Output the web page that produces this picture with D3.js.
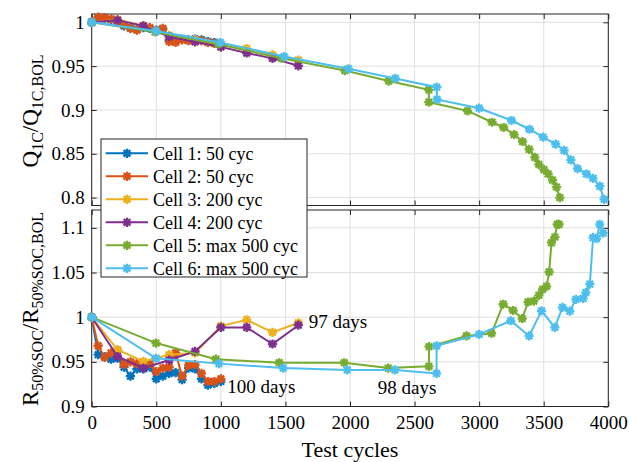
<!DOCTYPE html>
<html><head><meta charset="utf-8">
<script src="https://cdn.jsdelivr.net/npm/d3@7"></script>
<style>body{margin:0;background:#fff}</style>
</head><body><svg id="c" width="629" height="462" font-family="Liberation Serif" style="font-family:'Liberation Serif'"></svg>
<script>
// ---------- data ----------
const cellNames = ["Cell 1: 50 cyc","Cell 2: 50 cyc","Cell 3: 200 cyc","Cell 4: 200 cyc","Cell 5: max 500 cyc","Cell 6: max 500 cyc"];
const cellColors = ["#0072BD","#D95319","#EDB120","#7E2F8E","#77AC30","#4DBEEE"];
const xTicks = [0,500,1000,1500,2000,2500,3000,3500,4000];
const qTicks = [0.8,0.85,0.9,0.95,1];
const qTickLabels = ["0.8","0.85","0.9","0.95","1"];
const rTicks = [0.9,0.95,1,1.05,1.1];
const rTickLabels = ["0.9","0.95","1","1.05","1.1"];

const cyc50 = [0,50,100,150,200,250,300,350,400,450,500,550,600,650,700,750,800,850,900,950,1000];
const cyc200 = [0,200,400,600,800,1000,1200,1400,1600];

// capacity (top)
const q1 = [1.0,1.005,1.005,1.003,1.001,0.996,0.994,0.992,0.994,0.993,0.991,0.992,0.980,0.979,0.981,0.980,0.981,0.980,0.978,0.977,0.974];
const q2 = [1.0,1.006,1.005,1.004,1.001,0.997,0.993,0.991,0.995,0.994,0.990,0.993,0.978,0.977,0.980,0.979,0.980,0.979,0.977,0.976,0.972];
const q3 = [1.0,1.003,0.996,0.985,0.980,0.975,0.970,0.963,0.957];
const q4 = [1.0,1.0025,0.996,0.9836,0.9778,0.972,0.965,0.9589,0.9504];
const q5Cyc = [0,490,980,1470,1960,2300,2610,2610,2910,3100,3190,3270,3336,3387,3431,3462,3501,3534,3568,3599,3625];
const q5 = [1.0,0.989,0.975,0.959,0.945,0.933,0.923,0.909,0.899,0.886,0.880,0.872,0.864,0.855,0.846,0.838,0.832,0.827,0.820,0.812,0.800];
const q6Cyc = [0,500,995,1490,1988,2350,2672,2674,3000,3251,3390,3495,3593,3658,3710,3762,3831,3882,3934,3968];
const q6 = [1.0,0.990,0.977,0.961,0.947,0.936,0.926,0.912,0.902,0.888,0.878,0.869,0.861,0.854,0.843,0.833,0.827,0.822,0.813,0.798];

// resistance (bottom)
const r1 = [1.0,0.958,0.956,0.953,0.954,0.944,0.934,0.942,0.942,0.944,0.931,0.934,0.937,0.938,0.930,0.943,0.942,0.931,0.924,0.926,0.928];
const r2 = [1.0,0.968,0.955,0.960,0.963,0.947,0.950,0.948,0.946,0.948,0.939,0.943,0.944,0.960,0.934,0.946,0.947,0.937,0.928,0.928,0.931];
const r3 = [1.0,0.9635,0.9505,0.958,0.960,0.990,0.997,0.983,0.9937];
const r4 = [1.0,0.956,0.943,0.952,0.9617,0.9885,0.9885,0.970,0.991];
const r5Cyc = [0,498,962,1452,1955,2296,2611,2612,2902,3096,3186,3263,3333,3379,3423,3462,3491,3522,3542,3560,3586,3604,3619];
const r5 = [1.0,0.971,0.953,0.949,0.949,0.943,0.945,0.967,0.979,0.982,1.0145,1.0075,0.9985,1.017,1.018,1.0245,1.031,1.0346,1.0506,1.0834,1.0897,1.104,1.104];
const r6Cyc = [0,498,985,1483,1978,2348,2670,2671,3000,3245,3387,3483,3586,3645,3702,3749,3805,3826,3857,3882,3909,3934,3960];
const r6 = [1.0,0.954,0.948,0.943,0.941,0.941,0.937,0.968,0.9807,0.996,0.979,1.007,0.9885,1.011,1.0067,1.02,1.021,1.0276,1.037,1.089,1.088,1.104,1.094];

const annotations = [
  {text:"97 days", x:1680, y:0.995},
  {text:"100 days", x:1050, y:0.9225},
  {text:"98 days", x:2215, y:0.9215}
];

// ---------- build ----------
const topSeries = [[cyc50,q1],[cyc50,q2],[cyc200,q3],[cyc200,q4],[q5Cyc,q5],[q6Cyc,q6]];
const botSeries = [[cyc50,r1],[cyc50,r2],[cyc200,r3],[cyc200,r4],[r5Cyc,r5],[r6Cyc,r6]];

const FONT = "Liberation Serif";
const svg = d3.select("#c");
const x = d3.scaleLinear().domain([0,4000]).range([91.7,608.3]);
const yTop = d3.scaleLinear().domain([0.791,1.0095]).range([205.5,14]);
const yBot = d3.scaleLinear().domain([0.9,1.12]).range([406.5,210]);

const r = 4.6, d = r*0.72;
const starPath = `M${-r},0L${r},0M0,${-r}L0,${r}M${-d},${-d}L${d},${d}M${-d},${d}L${d},${-d}`;

function panel(y, ticks, labels, series, showX){
  const g = svg.append("g");
  const [x0,x1] = x.range(); const [y1,y0] = y.range();
  g.selectAll(".gx").data(xTicks).join("line")
    .attr("x1",d=>x(d)).attr("x2",d=>x(d)).attr("y1",y0).attr("y2",y1)
    .attr("stroke","#dfdfdf").attr("stroke-width",1);
  g.selectAll(".gy").data(ticks).join("line")
    .attr("x1",x0).attr("x2",x1).attr("y1",d=>y(d)).attr("y2",d=>y(d))
    .attr("stroke","#dfdfdf").attr("stroke-width",1);
  const ax = svg.append("g");
  const a1 = ax.append("g").attr("transform",`translate(0,${y1})`)
    .call(d3.axisBottom(x).tickValues(xTicks).tickSizeInner(-5).tickSizeOuter(0).tickPadding(9).tickFormat(showX? d3.format("d") : ()=>""));
  const a2 = ax.append("g").attr("transform",`translate(0,${y0})`)
    .call(d3.axisTop(x).tickValues(xTicks).tickSizeInner(-5).tickSizeOuter(0).tickFormat(()=>""));
  const a3 = ax.append("g").attr("transform",`translate(${x0},0)`)
    .call(d3.axisLeft(y).tickValues(ticks).tickSizeInner(-5).tickSizeOuter(0).tickPadding(7).tickFormat((d,i)=>labels[i]));
  const a4 = ax.append("g").attr("transform",`translate(${x1},0)`)
    .call(d3.axisRight(y).tickValues(ticks).tickSizeInner(-5).tickSizeOuter(0).tickFormat(()=>""));
  [a1,a2,a3,a4].forEach(a=>a.attr("font-family",FONT).attr("font-size",19));
  ax.selectAll(".domain").remove();
  ax.selectAll(".tick line").attr("stroke","#262626");
  ax.selectAll(".tick text").attr("fill","#000");
  svg.append("rect").attr("x",x0).attr("y",y0).attr("width",x1-x0).attr("height",y1-y0)
    .attr("fill","none").attr("stroke","#262626").attr("stroke-width",1);
  const line = d3.line().x(p=>x(p[0])).y(p=>y(p[1]));
  series.forEach((s,i)=>{
    const pts = s[0].map((c,k)=>[c,s[1][k]]);
    const sg = svg.append("g");
    sg.append("path").attr("d",line(pts)).attr("fill","none").attr("stroke",cellColors[i]).attr("stroke-width",2);
    sg.selectAll("path.m").data(pts).join("path").attr("class","m")
      .attr("transform",p=>`translate(${x(p[0])},${y(p[1])})`)
      .attr("d",starPath).attr("stroke",cellColors[i]).attr("stroke-width",2.3).attr("fill","none");
  });
}

panel(yTop, qTicks, qTickLabels, topSeries, false);
panel(yBot, rTicks, rTickLabels, botSeries, true);

svg.selectAll(".ann").data(annotations).join("text")
  .attr("x",a=>x(a.x)).attr("y",a=>yBot(a.y)).attr("dy","0.35em")
  .attr("font-size",19).text(a=>a.text);

svg.append("text").attr("x",x(2000)).attr("y",457).attr("text-anchor","middle")
  .attr("font-size",22).text("Test cycles");

function yLabel(cy, parts){
  const t = svg.append("text").attr("transform",`translate(38,${cy}) rotate(-90)`)
    .attr("text-anchor","middle").attr("font-size",23);
  parts.forEach(p=>{
    if(p.sub){ t.append("tspan").attr("font-size",16).attr("dy",5).text(p.t); }
    else { t.append("tspan").attr("dy",p.after? -5:0).text(p.t); }
  });
}
yLabel(111, [{t:"Q"},{t:"1C",sub:true},{t:"/Q",after:true},{t:"1C,BOL",sub:true}]);
yLabel(309, [{t:"R"},{t:"50%SOC",sub:true},{t:"/R",after:true},{t:"50%SOC,BOL",sub:true}]);

const lg = svg.append("g");
lg.append("rect").attr("x",101).attr("y",139).attr("width",206).attr("height",138)
  .attr("fill","#fff").attr("stroke","#262626").attr("stroke-width",1);
cellNames.forEach((n,i)=>{
  const yy = 153.3 + i*23;
  lg.append("line").attr("x1",105.7).attr("x2",148).attr("y1",yy).attr("y2",yy)
    .attr("stroke",cellColors[i]).attr("stroke-width",2);
  lg.append("path").attr("transform",`translate(127,${yy})`).attr("d",starPath)
    .attr("stroke",cellColors[i]).attr("stroke-width",2.3).attr("fill","none");
  lg.append("text").attr("x",153).attr("y",yy).attr("dy","0.35em")
    .attr("font-size",18).text(n);
});

svg.selectAll("text").attr("font-family",FONT).style("font-family",FONT);
</script>
</body></html>
